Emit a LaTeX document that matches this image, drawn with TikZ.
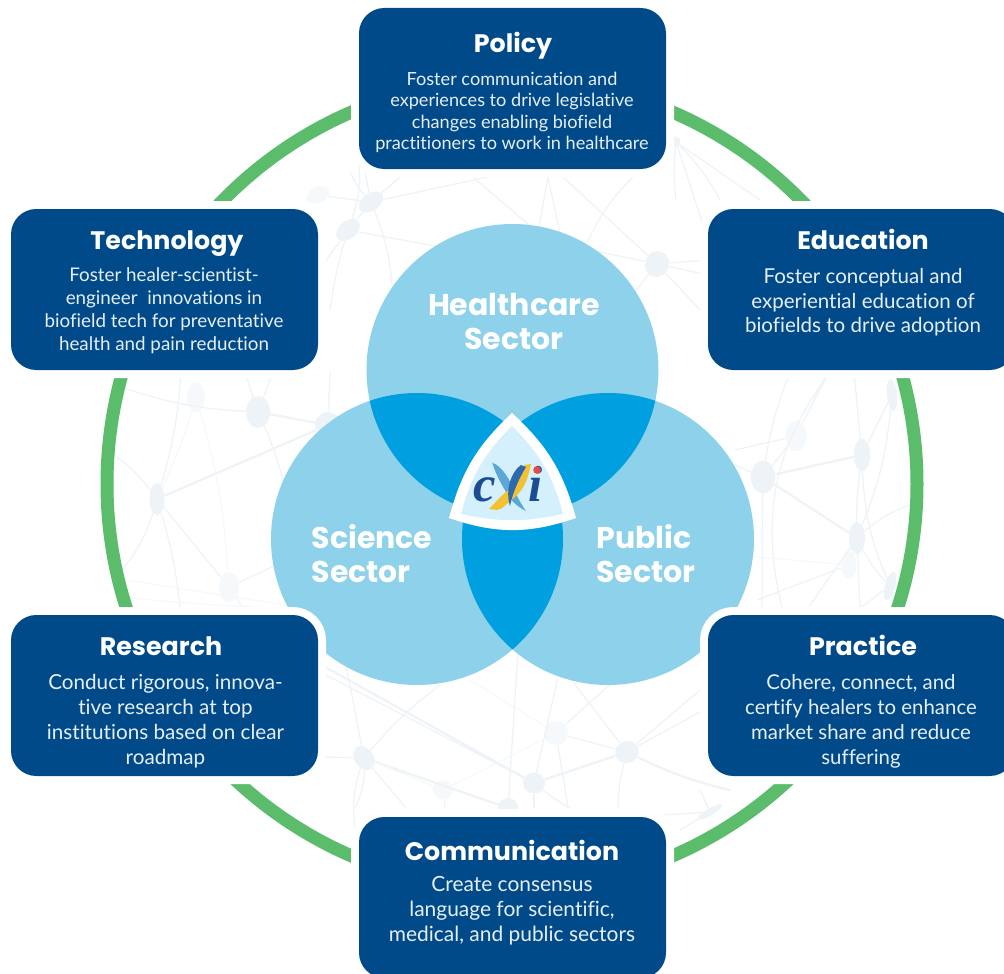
\documentclass[tikz,border=0pt]{standalone}
\usepackage{fontspec}
\setmainfont[Ligatures=NoCommon]{Lato}
\newfontfamily\titlefont{Poppins}
\newfontfamily\logofont{Liberation Serif}
\usetikzlibrary{shapes.geometric}
\definecolor{boxblue}{HTML}{014A89}
\definecolor{ringgreen}{HTML}{5BBD6B}
\definecolor{lightc}{HTML}{8AD1EA}
\definecolor{deepc}{HTML}{00A0E0}
\definecolor{netc}{HTML}{EEF3F8}
\definecolor{netp}{HTML}{F6F9FB}
\definecolor{bodyc}{HTML}{E6EEF6}
\definecolor{logoc}{HTML}{D3F0FC}
\definecolor{logot}{HTML}{1D4C93}
\definecolor{ribbonl}{HTML}{5BA7D6}
\definecolor{ribbony}{HTML}{F2C230}
\definecolor{ribbond}{HTML}{2E69B0}
\definecolor{logor}{HTML}{E8474C}
\tikzset{
  x=0.75pt,y=-0.75pt,
  netnode/.style={ellipse,inner sep=0pt,fill=netc},
  netthin/.style={draw=netc,line width=0.9pt},
  netthick/.style={draw=netc,line width=1.6pt},
  netpale/.style={draw=netp,line width=0.9pt},
  panel/.style={rounded corners=19pt,minimum width=230.25pt,minimum height=120.75pt,inner sep=0pt,fill=boxblue,
    preaction={draw=white,line width=12pt}},
  paneltitle/.style={text=white,font=\titlefont\bfseries\fontsize{19}{22}\selectfont,inner sep=0pt},
  sector/.style={text=white,font=\titlefont\bfseries\fontsize{22.5}{25.5}\selectfont,inner sep=0pt,align=left},
  paneltext/.style={text=bodyc,align=center,inner sep=0pt},
}
\begin{document}
\begin{tikzpicture}
\clip (0,0) rectangle (1004,974);
\fill[white] (0,0) rectangle (1004,974);
% network nodes
\foreach \n/\x/\y/\w/\h/\r/\c in {
 n1/258/412/24/32/0/netc, n2/157/499/15/32/0/netc, n3/196/397/18/30/0/netp, n4/328/425/26/26/0/netc,
 n5/229/587/20/30/0/netp, n6/371/202/27/17/35/netc, n7/348/230/27/18/40/netc, n8/318/195/24/16/25/netp,
 n9/657/264/24/26/-20/netc, n10/364/758/19/26/35/netc, n11/534/783/22/21/0/netc, n12/556/733/24/24/0/netp,
 n13/627/752/24/22/20/netc, n14/443/790/20/19/0/netp, n15/508/808/20/20/0/netc, n16/763/477/24/33/0/netc,
 n17/796/436/21/31/0/netp, n18/862/455/16/33/0/netc, n19/857/538/16/32/0/netc, n20/849/565/15/28/0/netp,
 n21/892/395/10/32/5/netc, n22/890/586/10/30/-15/netc, n23/676/142/9/11/0/netc, n24/710/812/28/7/30/netc}
 {\node[netnode,fill=\c,minimum width=\w*0.75pt,minimum height=\h*0.75pt,rotate=\r] (\n) at (\x,\y) {};}
% free ends of the network lines
\foreach \n/\x/\y in {
 f1/116/385, f2/181/372, f3/245/372, f4/271/377, f5/330/372, f6/114/455, f7/122/570, f8/180/607, f9/243/608,
 f10/290/560, f12/114/578, f13/285/605, f14/122/597, f15/330/540, f16/285/608,
 f20/735/465, f21/762/608, f22/790/372, f23/735/450, f24/854/372, f25/830/372, f26/910/505, f27/860/608,
 f28/782/608, f29/808/608, f30/735/555, f31/757/600, f32/860/608, f33/828/372,
 f40/325/262, f41/330/310, f42/440/247, f43/365/172, f44/400/177, f45/392/285, f46/352/135, f47/350/172,
 f50/488/177, f51/473/177, f52/543/237, f53/548/177, f54/533/260, f55/560/233, f56/563/177, f57/633/177,
 f58/587/243, f59/708/260, f60/708/275, f61/700/310, f62/620/310, f63/590/250, f64/676/200, f65/760/200,
 f66/708/240, f67/720/200,
 f70/325/667, f71/326/675, f72/440/685, f73/325/757, f74/355/808, f75/406/808, f76/558/677, f77/570/808,
 f78/534/808, f79/518/650, f80/508/808, f81/573/682, f82/700/690, f83/700/712, f84/730/790, f85/618/808,
 f86/470/680, f87/615/680, f88/568/808, f89/445/808, f90/665/815, f91/700/790, f92/680/830, f93/345/660,
 f94/355/830}
 {\coordinate (\n) at (\x,\y);}
% network lines
\foreach \a/\b/\s in {
 f1/n1/-8, f2/n2/6, f3/n1/0, f4/n1/0, f6/n2/8, f7/n2/-10, f8/n2/-5, n2/n5/0, n5/f9/0, n1/f10/12, n5/f15/0,
 f5/n4/0, n23/f64/-6, f22/n16/-6, n16/f20/0, n16/f21/0, f23/n17/0, n17/n16/0, n17/f33/0,
 f24/n18/0, n18/n21/0, n18/n19/-4, n19/n21/-8, n19/f26/10, n19/f27/0, n19/f29/0, n22/n19/8, n22/n18/10,
 n22/f32/0, f25/f28/-25, n20/f31/0,
 n6/n7/0, n7/f40/0, n7/f41/-4, n7/f42/0, n6/f50/0, n6/f43/0, n6/f44/0, n6/f45/8, n8/n6/0, f46/n7/18, f47/n6/-8,
 f51/f52/0, f53/f54/0, f53/f55/0, f56/n9/0, f57/f58/-10, n9/f59/0, n9/f60/0, n9/f61/0, n9/f62/0, f63/n9/0,
 n23/f65/0, n23/f66/0, f67/n23/-8,
 n10/f93/0, n10/f72/6, n10/f73/0, n10/f74/12, n10/f75/0, n11/f76/0, n11/f77/-4, n11/f78/0, f79/f80/0, n13/f81/0,
 n13/f82/0, n13/f83/0, n13/f85/-6, n12/f87/0, n12/f88/0, n12/n13/0, n14/f89/0, n24/f90/0, n24/f91/0, n24/f92/0,
 f94/n10/12, n11/f71/0}
 {\path[netthin] (\a) to[bend left=\s] (\b);}
\foreach \a/\b/\s in {n1/n4/0, n2/n4/0, n16/n18/0, n16/n19/0, n11/n13/0, f70/n11/0, n10/n15/0, n13/f84/-6}
 {\path[netthick] (\a) to[bend left=\s] (\b);}
\foreach \a/\b/\s in {n2/n3/-4, n3/n5/6, f12/f13/0, f14/f16/-2, n12/f86/0, n12/n14/0, n10/n14/0, n17/f25/0, n20/f30/0}
 {\path[netpale] (\a) to[bend left=\s] (\b);}
% green ring
\coordinate (ringc) at (512,484);
\draw[ringgreen,line width=9.75pt] (ringc) circle[radius=405];
% venn
\coordinate (hc) at (512.5,370);
\coordinate (sc) at (417,539);
\coordinate (pc) at (608,539);
\fill[lightc,fill opacity=.97] (hc) circle[radius=146];
\fill[lightc,fill opacity=.97] (sc) circle[radius=146];
\fill[lightc,fill opacity=.97] (pc) circle[radius=146];
\begin{scope}\clip (hc) circle[radius=146]; \fill[deepc] (sc) circle[radius=146]; \end{scope}
\begin{scope}\clip (hc) circle[radius=146]; \fill[deepc] (pc) circle[radius=146]; \end{scope}
\begin{scope}\clip (sc) circle[radius=146]; \fill[deepc] (pc) circle[radius=146]; \end{scope}
% logo
\coordinate (ot) at (512,413); \coordinate (ol) at (449,518); \coordinate (or) at (576,518);
\coordinate (it) at (512,426); \coordinate (il) at (461,514); \coordinate (ir) at (563,514);
\fill[white] (ot) to[bend left=16] (or) to[bend left=19] (ol) to[bend left=16] (ot) -- cycle;
\fill[logoc] (it) to[bend left=15] (ir) to[bend left=12] (il) to[bend left=15] (it) -- cycle;
\fill[ribbonl] (492.3,462.7) .. controls (502,466) and (510,480) .. (515,492) .. controls (519,500) and (523,507) .. (526,511) .. controls (516,506) and (508,498) .. (505,490) .. controls (500,482) and (495,472) .. (492.3,462.7) -- cycle;
\fill[ribbony] (531,464) .. controls (528,478) and (525,488) .. (515,497) .. controls (507,503) and (502,510) .. (497,510) -- (489,509) .. controls (495,503) and (500,497) .. (506,492) .. controls (515,486) and (522,475) .. (524,465) -- cycle;
\fill[ribbond] (521,465) .. controls (511,472) and (505,490) .. (510,506) .. controls (512,495) and (518,480) .. (526,467) -- cycle;
\node[text=logot,font=\logofont\bfseries\itshape\fontsize{38}{38}\selectfont,inner sep=0pt,anchor=base] (logoc1) at (484.5,501.5) {c};
\node[text=logot,font=\logofont\bfseries\itshape\fontsize{38}{38}\selectfont,inner sep=0pt,anchor=base] (logoi) at (536,501.5) {i};
\fill[logor] (537,470) circle[radius=3.8];
% panels
\node[panel] (policy) at (512.5,88.5) {};
\node[panel] (technology) at (164.5,289.5) {};
\node[panel] (education) at (861.5,289.5) {};
\node[panel] (research) at (164.5,695.5) {};
\node[panel] (practice) at (861.5,695.5) {};
\node[panel] (communication) at (512.5,897.5) {};
% panel titles
\node[paneltitle] (t1) at (513,46) {Policy};
\node[paneltitle] (t2) at (167,244) {Technology};
\node[paneltitle] (t3) at (863,239) {Education};
\node[paneltitle] (t4) at (161,646) {Research};
\node[paneltitle] (t5) at (863,645) {Practice};
\node[paneltitle] (t6) at (512,850) {Communication};
% panel texts
\node[paneltext,font=\fontsize{13.6}{16.1}\selectfont] (b1) at (512,112.5) {Foster communication and\\experiences to drive legislative\\changes enabling biofield\\practitioners to work in healthcare};
\node[paneltext,font=\fontsize{14.1}{17.2}\selectfont] (b2) at (164,311) {Foster healer-scientist-\\engineer\ \ innovations in\\biofield tech for preventative\\health and pain reduction};
\node[paneltext,font=\fontsize{15.4}{18.5}\selectfont] (b3) at (863,302.5) {Foster conceptual and\\experiential education of\\biofields to drive adoption};
\node[paneltext,font=\fontsize{15.5}{18.8}\selectfont] (b4) at (165.5,721.5) {Conduct rigorous, innova-\\tive research at top\\institutions based on clear\\roadmap};
\node[paneltext,font=\fontsize{15.3}{18.8}\selectfont] (b5) at (861,721.5) {Cohere, connect, and\\certify healers to enhance\\market share and reduce\\suffering};
\node[paneltext,font=\fontsize{15.7}{18.8}\selectfont] (b6) at (512,910.5) {Create consensus\\language for scientific,\\medical, and public sectors};
% sectors
\node[sector,align=center] (s1) at (514,322) {Healthcare\\Sector};
\node[sector] (s2) at (372,554) {Science\\Sector};
\node[sector] (s3) at (646,554) {Public\\Sector};
\end{tikzpicture}
\end{document}
